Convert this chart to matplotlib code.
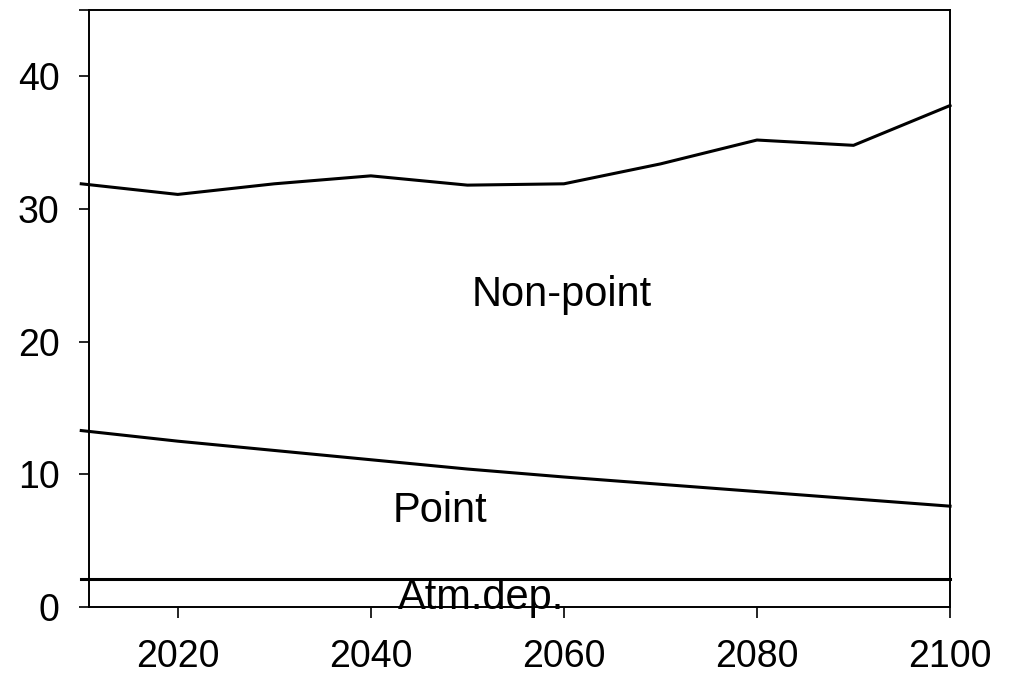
import matplotlib
matplotlib.use('Agg')
import matplotlib.pyplot as plt

plt.rcParams['font.family'] = ['Liberation Sans', 'DejaVu Sans']

# Cargas acumuladas por fuente
anios = [2010, 2020, 2030, 2040, 2050, 2060, 2070, 2080, 2090, 2100]
atm_dep = [2.1] * 10
point_top = [13.3, 12.5, 11.8, 11.1, 10.4, 9.8, 9.25, 8.7, 8.15, 7.6]
nonpoint_top = [31.9, 31.1, 31.9, 32.5, 31.8, 31.9, 33.4, 35.2, 34.8, 37.8]

yticks = [0, 10, 20, 30, 40, 45]
ytick_labels = ['0', '10', '20', '30', '40', '']
xticks = [2020, 2040, 2060, 2080, 2100]

fig = plt.figure(figsize=(10.11, 6.77), dpi=100)
ax = fig.add_axes([0.088, 0.1034, 0.8517, 0.8818])

for serie in (atm_dep, point_top, nonpoint_top):
    ax.plot(anios, serie, color='black', linewidth=2.2, clip_on=False)

ax.set_xlim(2010.8, 2100)
ax.set_ylim(0, 45)
ax.set_yticks(yticks)
ax.set_yticklabels(ytick_labels)
ax.set_xticks(xticks)

for s in ax.spines.values():
    s.set_linewidth(1.4)
ax.tick_params(axis='y', direction='out', length=7, width=1.2, pad=14, labelsize=27)
ax.tick_params(axis='x', direction='out', length=8, width=1.2, pad=15, labelsize=27)

# Etiquetas de las areas
ax.text(2059.8, 23.5, 'Non-point', ha='center', va='center', fontsize=30)
ax.text(2047.2, 7.2, 'Point', ha='center', va='center', fontsize=30)
ax.text(2051.4, 0.7, 'Atm.dep.', ha='center', va='center', fontsize=30, clip_on=False)

fig.savefig('out.png', dpi=100)
